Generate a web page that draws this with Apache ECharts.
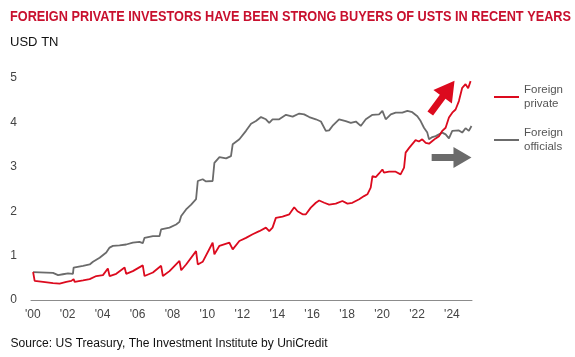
<!DOCTYPE html>
<html>
<head>
<meta charset="utf-8">
<script src="https://cdn.jsdelivr.net/npm/echarts@6/dist/echarts.min.js"></script>
<style>
html,body{margin:0;padding:0;background:#fff;}
#c{width:575px;height:357px;}
</style>
</head>
<body>
<div id="c"></div>
<script>
// ---- data ----
const titleText = 'FOREIGN PRIVATE INVESTORS HAVE BEEN STRONG BUYERS OF USTS IN RECENT YEARS';
const unitText = 'USD TN';
const sourceText = 'Source: US Treasury, The Investment Institute by UniCredit';
const seriesNames = ['Foreign private', 'Foreign officials'];

const xTickYears = [2000,2002,2004,2006,2008,2010,2012,2014,2016,2018,2020,2022,2024];
const xTickLabels = ["'00","'02","'04","'06","'08","'10","'12","'14","'16","'18","'20","'22","'24"];
const yTicks = [0,1,2,3,4,5];

const officialYears = [2000.02,2001.16,2001.45,2001.73,2002.02,2002.30,2002.34,2002.88,2003.26,2003.45,2003.83,2004.21,2004.40,2004.59,2004.97,2005.35,2005.73,2006.11,2006.30,2006.40,2006.88,2007.26,2007.35,2007.83,2008.21,2008.40,2008.50,2008.78,2009.07,2009.35,2009.45,2009.73,2009.92,2010.30,2010.40,2010.69,2011.07,2011.35,2011.45,2011.83,2012.21,2012.50,2012.78,2013.07,2013.35,2013.54,2013.73,2014.11,2014.50,2014.88,2015.26,2015.54,2015.83,2016.21,2016.50,2016.78,2016.97,2017.16,2017.54,2017.92,2018.21,2018.50,2018.78,2019.07,2019.45,2019.83,2020.02,2020.21,2020.50,2020.78,2021.16,2021.45,2021.73,2022.02,2022.21,2022.40,2022.59,2022.69,2022.88,2023.07,2023.45,2023.64,2023.83,2024.02,2024.40,2024.59,2024.78,2024.97,2025.12];
const officialValues = [0.63,0.61,0.56,0.58,0.60,0.59,0.73,0.77,0.80,0.86,0.95,1.07,1.18,1.22,1.23,1.25,1.29,1.31,1.28,1.40,1.44,1.44,1.59,1.63,1.70,1.76,1.89,2.04,2.15,2.27,2.68,2.72,2.67,2.68,3.09,3.22,3.19,3.24,3.51,3.62,3.81,3.97,4.03,4.12,4.07,3.99,4.07,4.07,4.17,4.13,4.20,4.18,4.12,4.07,4.02,3.81,3.82,3.92,4.07,4.03,3.99,4.02,3.92,4.07,4.17,4.18,4.26,4.07,4.18,4.22,4.22,4.26,4.23,4.14,4.03,3.88,3.77,3.62,3.67,3.69,3.77,3.73,3.64,3.81,3.82,3.77,3.87,3.81,3.92];

const privateYears = [2000.02,2000.11,2000.59,2001.16,2001.54,2001.92,2002.21,2002.34,2002.40,2002.88,2003.26,2003.64,2004.02,2004.30,2004.40,2004.78,2005.26,2005.35,2005.73,2006.30,2006.40,2006.88,2007.35,2007.45,2007.83,2008.40,2008.50,2008.78,2009.35,2009.45,2009.73,2010.30,2010.40,2010.69,2011.26,2011.45,2011.83,2012.21,2012.59,2012.97,2013.35,2013.54,2013.73,2013.92,2014.30,2014.69,2014.97,2015.16,2015.45,2015.64,2015.92,2016.21,2016.40,2016.69,2016.97,2017.35,2017.73,2018.02,2018.30,2018.69,2018.97,2019.16,2019.35,2019.45,2019.64,2019.83,2020.02,2020.11,2020.40,2020.78,2021.06,2021.26,2021.35,2021.54,2021.73,2021.92,2022.11,2022.30,2022.50,2022.69,2022.88,2023.07,2023.26,2023.45,2023.64,2023.83,2024.02,2024.21,2024.40,2024.59,2024.78,2024.93,2025.07];
const privateValues = [0.63,0.43,0.41,0.38,0.37,0.41,0.43,0.47,0.41,0.44,0.47,0.54,0.56,0.71,0.54,0.59,0.73,0.59,0.65,0.78,0.54,0.62,0.77,0.54,0.65,0.88,0.67,0.80,1.10,0.80,0.86,1.29,1.03,1.22,1.29,1.14,1.33,1.40,1.48,1.55,1.63,1.55,1.63,1.85,1.88,1.93,2.09,2.00,1.93,1.93,2.08,2.19,2.24,2.19,2.15,2.17,2.23,2.17,2.19,2.27,2.34,2.38,2.53,2.79,2.77,2.85,2.94,2.87,2.89,2.89,2.83,2.98,3.32,3.42,3.51,3.60,3.57,3.62,3.54,3.52,3.58,3.64,3.69,3.81,3.88,4.11,4.22,4.29,4.48,4.78,4.86,4.77,4.93];

// annotation arrows, in data coordinates [year, value]
const redArrow = [[2022.76, 4.20], [2024.15, 4.94]];
const grayArrow = [[2022.84, 3.21], [2025.12, 3.21]];

const RED = '#dc0a1e';
const GRAY = '#6b6b6b';
const FONT = '"Liberation Sans", Arial, sans-serif';

const zip = (xs, ys) => xs.map((x, i) => [x, ys[i]]);

// fit header/footer text widths to the reference's (narrow Calibri-like) type
const mctx = document.createElement('canvas').getContext('2d');
function fitScale(text, font, targetW) {
  mctx.font = font;
  return targetW / mctx.measureText(text).width;
}
const titleFont = 'bold 15px ' + FONT;
const unitFont = '13px ' + FONT;
const srcFont = '12px ' + FONT;

const chart = echarts.init(document.getElementById('c'), null, {renderer: 'canvas'});
const option = {
  animation: false,
  backgroundColor: '#fff',
  grid: {left: 31, right: 103, top: 78, bottom: 57, containLabel: false},
  xAxis: {
    type: 'value', min: 1999.9, max: 2025.15,
    axisLine: {show: true, lineStyle: {color: '#8c8c8c', width: 1}},
    axisTick: {show: false},
    splitLine: {show: false},
    axisLabel: {
      customValues: xTickYears,
      formatter: v => xTickLabels[xTickYears.indexOf(Math.round(v))] || '',
      fontFamily: FONT, fontSize: 12, color: '#444', margin: 9
    }
  },
  yAxis: {
    type: 'value', min: 0, max: 5, interval: 1,
    axisLine: {show: false}, axisTick: {show: false}, splitLine: {show: false},
    axisLabel: {fontFamily: FONT, fontSize: 12, color: '#444', margin: 14,
      formatter: v => yTicks.includes(v) ? String(v) : ''}
  },
  legend: {
    orient: 'vertical', left: 489, top: 71, itemGap: 1,
    itemWidth: 25, itemHeight: 2, icon: 'rect',
    data: seriesNames,
    formatter: n => n.replace(' ', '\n'),
    textStyle: {fontFamily: FONT, fontSize: 11.5, color: '#555', lineHeight: 14, padding: [14, 0, 0, 0]}
  },
  series: [
    {name: seriesNames[1], type: 'line', data: zip(officialYears, officialValues),
     showSymbol: false, symbol: 'none', color: GRAY, lineStyle: {width: 1.8, color: GRAY}, z: 2},
    {name: seriesNames[0], type: 'line', data: zip(privateYears, privateValues),
     showSymbol: false, symbol: 'none', color: RED, lineStyle: {width: 1.8, color: RED}, z: 3}
  ]
};
chart.setOption(option);

function arrowPolygon(p0, p1, shaftW, headLen, headW) {
  const dx = p1[0] - p0[0], dy = p1[1] - p0[1];
  const L = Math.hypot(dx, dy);
  const ux = dx / L, uy = dy / L, nx = -uy, ny = ux;
  const bx = p1[0] - ux * headLen, by = p1[1] - uy * headLen;
  const s = shaftW / 2, h = headW / 2;
  return [
    [p0[0] + nx * s, p0[1] + ny * s],
    [bx + nx * s, by + ny * s],
    [bx + nx * h, by + ny * h],
    [p1[0], p1[1]],
    [bx - nx * h, by - ny * h],
    [bx - nx * s, by - ny * s],
    [p0[0] - nx * s, p0[1] - ny * s]
  ];
}
const toPx = p => chart.convertToPixel({gridIndex: 0}, p);
const rA = redArrow.map(toPx), gA = grayArrow.map(toPx);
chart.setOption({
  graphic: [
    {type: 'text', x: 10, y: 16.5, scaleX: fitScale(titleText, titleFont, 561),
     style: {text: titleText, font: titleFont, fill: '#c8102e', verticalAlign: 'middle', align: 'left'}},
    {type: 'text', x: 10, y: 42.5, scaleX: fitScale(unitText, unitFont, 48.5),
     style: {text: unitText, font: unitFont, fill: '#111', verticalAlign: 'middle', align: 'left'}},
    {type: 'text', x: 10.5, y: 343.5, scaleX: fitScale(sourceText, srcFont, 317),
     style: {text: sourceText, font: srcFont, fill: '#111', verticalAlign: 'middle', align: 'left'}},
    {type: 'polygon', shape: {points: arrowPolygon(rA[0], rA[1], 7, 20, 23)}, style: {fill: RED}, z: 10},
    {type: 'polygon', shape: {points: arrowPolygon(gA[0], gA[1], 7, 18, 21)}, style: {fill: GRAY}, z: 10}
  ]
});
</script>
</body>
</html>
